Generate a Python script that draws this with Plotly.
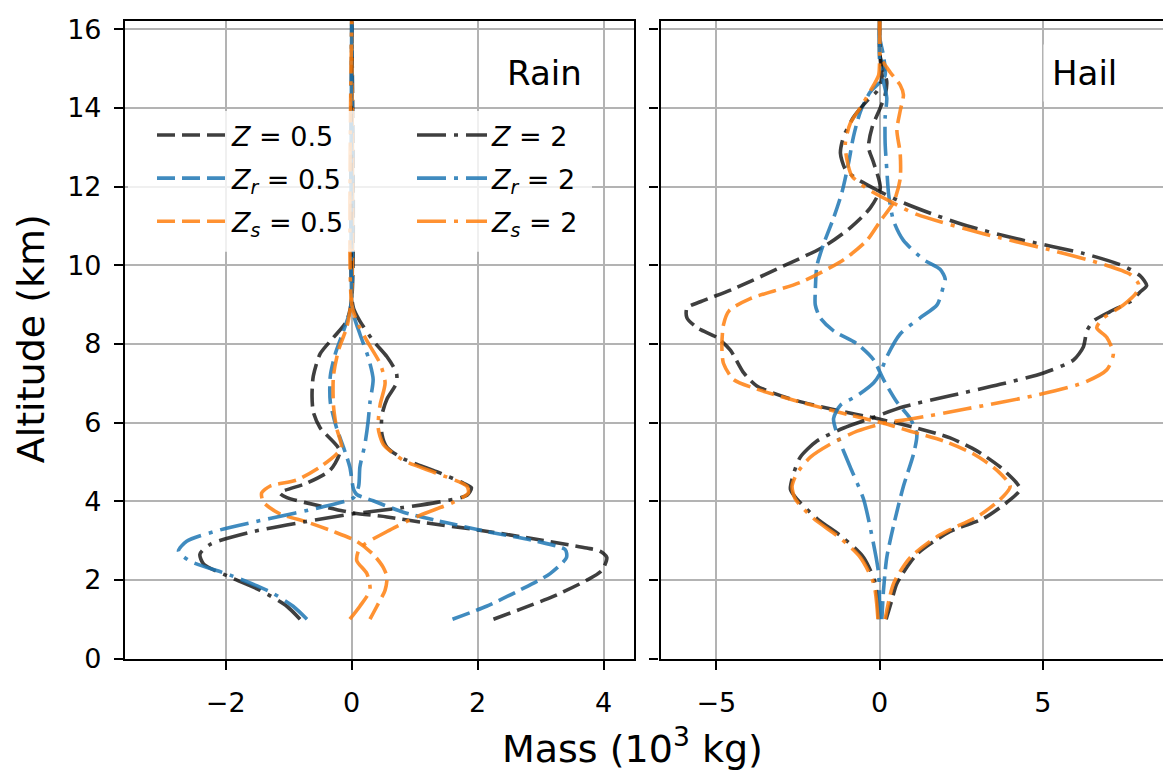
import plotly.graph_objects as go

# ---------------- data (mass in 10^3 kg, altitude in km) ----------------
# Rain panel
rain_z05_alt = [1.0, 1.25, 1.58, 1.99, 2.24, 2.57, 2.73, 2.81, 3.10, 3.27, 3.47, 3.60, 3.70, 3.88, 4.09, 4.21, 4.46, 4.79, 5.28, 5.86, 6.27, 6.68, 7.18, 7.75, 8.16, 8.58, 9.15, 16.2]
rain_z05 = [2.25, 2.67, 3.2, 3.73, 3.97, 4.05, 3.94, 3.73, 2.67, 2.0, 1.08, 0.56, 0.03, -0.5, -1.03, -1.14, -0.71, -0.34, -0.19, -0.5, -0.61, -0.63, -0.61, -0.5, -0.29, -0.08, 0, 0]

rain_zr05_alt = [1.0, 1.33, 1.74, 2.16, 2.57, 2.77, 2.98, 3.23, 3.51, 3.72, 4.01, 4.17, 4.30, 4.87, 5.37, 5.86, 6.52, 7.18, 7.75, 8.33, 8.82, 9.2, 16.2]
rain_zr05 = [1.6, 2.14, 2.67, 3.15, 3.41, 3.39, 2.94, 2.14, 1.35, 0.82, 0.34, 0.08, 0.03, -0.03, -0.13, -0.24, -0.34, -0.34, -0.26, -0.13, -0.03, 0, 0]

rain_zs05_alt = [1.0, 1.33, 1.74, 2.07, 2.32, 2.65, 2.98, 3.23, 3.47, 3.68, 3.97, 4.21, 4.38, 4.54, 4.87, 5.2, 5.37, 5.86, 6.44, 7.18, 7.84, 8.41, 8.82, 9.2, 16.2]
rain_zs05 = [0.29, 0.4, 0.53, 0.56, 0.5, 0.34, 0.08, -0.29, -0.71, -1.14, -1.4, -1.43, -1.3, -0.87, -0.5, -0.24, -0.16, -0.24, -0.29, -0.29, -0.21, -0.08, -0.03, 0, 0]

rain_z2_alt = [1.0, 1.33, 1.74, 2.07, 2.4, 2.65, 2.9, 3.23, 3.47, 3.68, 3.84, 3.97, 4.15, 4.34, 4.46, 4.75, 5.08, 5.37, 5.70, 6.19, 6.6, 7.0, 7.26, 7.67, 8.08, 8.58, 8.9, 9.2, 16.2]
rain_z2 = [-0.82, -1.03, -1.46, -1.93, -2.35, -2.41, -2.25, -1.56, -0.77, 0.03, 0.82, 1.35, 1.83, 1.9, 1.77, 1.35, 0.82, 0.56, 0.48, 0.48, 0.56, 0.71, 0.71, 0.56, 0.34, 0.13, 0.03, 0, 0]

rain_zr2_alt = [1.0, 1.33, 1.70, 2.12, 2.48, 2.73, 2.98, 3.27, 3.56, 3.84, 4.09, 4.38, 4.87, 5.45, 6.02, 6.52, 7.1, 7.67, 8.25, 8.74, 9.2, 16.2]
rain_zr2 = [-0.71, -0.93, -1.3, -1.93, -2.57, -2.75, -2.62, -2.09, -1.3, -0.5, 0.03, 0.11, 0.13, 0.21, 0.26, 0.29, 0.34, 0.26, 0.13, 0.03, 0, 0]

rain_zs2_alt = [1.0, 1.33, 1.74, 2.16, 2.49, 2.81, 3.23, 3.64, 3.97, 4.21, 4.38, 4.71, 5.04, 5.45, 5.86, 6.44, 7.01, 7.5, 8.08, 8.58, 9.0, 16.2]
rain_zs2 = [-0.03, 0.13, 0.29, 0.24, 0.08, 0.13, 0.56, 1.08, 1.61, 1.85, 1.83, 1.35, 0.82, 0.5, 0.42, 0.45, 0.53, 0.45, 0.24, 0.08, 0, 0]

# Hail panel
hail_z05_alt = [1.0, 1.5, 1.91, 2.65, 3.23, 3.56, 3.97, 4.30, 4.46, 4.87, 5.28, 5.61, 5.86, 6.1, 6.31, 6.6, 6.93, 7.26, 7.84, 8.16, 8.41, 8.66, 8.91, 9.07, 9.4, 9.98, 10.47, 10.95, 11.45, 11.95, 12.6, 13.0, 13.5, 14.0, 14.33, 14.66, 15.0, 15.3, 15.7, 16.2]
hail_z05 = [0.2, 0.38, 0.53, 1.14, 2.16, 3.18, 3.9, 4.31, 4.2, 3.69, 2.98, 2.16, 1.14, -0.08, -1.31, -2.73, -3.76, -4.16, -4.57, -4.98, -5.59, -5.9, -5.9, -5.49, -4.47, -2.94, -1.71, -0.9, -0.29, 0.02, -0.18, -0.34, -0.23, 0.02, 0.17, 0.22, 0.12, 0.02, 0, 0]

hail_zr05_alt = [1.0, 1.74, 2.57, 3.39, 4.38, 5.2, 5.7, 6.1, 6.52, 7.09, 7.59, 8.0, 8.33, 8.66, 8.99, 9.32, 9.98, 10.55, 11.2, 11.86, 12.6, 13.27, 13.9, 14.4, 14.66, 14.83, 15.32, 15.8, 16.2]
hail_zr05 = [0.07, 0.12, 0.22, 0.43, 0.73, 1.04, 1.14, 0.94, 0.53, 0.12, -0.18, -0.69, -1.41, -1.82, -1.97, -1.97, -1.92, -1.71, -1.41, -1.15, -0.95, -0.8, -0.59, -0.29, 0.02, 0.17, 0.12, 0, 0]

hail_zs05_alt = [1.0, 1.91, 2.57, 3.14, 3.64, 4.13, 4.38, 4.79, 5.2, 5.53, 5.78, 5.98, 6.19, 6.52, 6.85, 7.09, 7.5, 7.92, 8.49, 8.85, 9.15, 9.56, 10.14, 10.63, 11.12, 11.6, 12.19, 12.85, 13.43, 13.92, 14.33, 14.58, 14.9, 15.3, 15.8, 16.2]
hail_zs05 = [0.17, 0.43, 0.94, 1.84, 3.06, 3.8, 4.0, 3.59, 2.88, 1.96, 0.94, 0.12, -0.9, -2.43, -3.76, -4.47, -4.78, -4.83, -4.78, -4.6, -3.96, -2.43, -1.1, -0.39, 0.02, 0.43, 0.63, 0.63, 0.53, 0.63, 0.73, 0.63, 0.33, 0.02, 0, 0]

hail_z2_alt = [1.0, 1.91, 2.57, 3.06, 3.56, 4.05, 4.30, 4.71, 5.12, 5.53, 5.86, 6.1, 6.4, 6.68, 6.97, 7.26, 7.59, 7.92, 8.33, 8.58, 8.82, 9.07, 9.32, 9.48, 9.73, 9.98, 10.3, 10.67, 11.0, 11.29, 11.62, 11.91, 12.19, 12.44, 12.85, 13.27, 13.76, 14.17, 14.42, 14.74, 15.24, 15.7, 16.2]
hail_z2 = [-0.03, -0.13, -0.49, -1.1, -1.92, -2.53, -2.73, -2.63, -2.43, -1.92, -1.1, -0.29, 0.73, 2.16, 3.69, 5.02, 5.94, 6.24, 6.35, 6.55, 7.06, 7.67, 7.98, 8.18, 7.98, 7.47, 6.24, 4.2, 2.67, 1.65, 0.63, -0.08, -0.69, -1.05, -1.2, -1.1, -0.8, -0.39, -0.08, 0.07, 0.02, 0, 0]

hail_zr2_alt = [1.0, 2.16, 3.14, 4.05, 4.87, 5.61, 6.1, 6.44, 6.68, 7.01, 7.26, 7.67, 8.25, 8.66, 8.99, 9.48, 9.65, 9.89, 10.14, 10.63, 11.12, 11.78, 12.44, 13.1, 13.76, 14.25, 14.66, 15.2, 16.2]
hail_zr2 = [0.0, -0.03, -0.24, -0.49, -0.9, -1.26, -1.41, -1.2, -0.69, -0.18, 0.02, 0.22, 0.63, 1.24, 1.76, 1.96, 2.01, 1.86, 1.35, 0.73, 0.43, 0.28, 0.22, 0.17, 0.17, 0.22, 0.12, 0, 0]

hail_zs2_alt = [1.0, 1.91, 2.57, 3.06, 3.56, 4.05, 4.38, 4.71, 5.12, 5.45, 5.78, 5.98, 6.1, 6.35, 6.68, 7.01, 7.34, 7.75, 8.16, 8.41, 8.66, 8.99, 9.32, 9.52, 9.77, 10.02, 10.39, 10.8, 11.29, 11.62, 11.95, 12.27, 12.68, 13.1, 13.6, 14.0, 14.42, 14.83, 15.2, 16.2]
hail_zs2 = [-0.05, -0.18, -0.59, -1.2, -2.02, -2.58, -2.68, -2.53, -2.12, -1.51, -0.69, 0.12, 1.04, 2.67, 4.71, 6.24, 6.96, 7.16, 6.96, 6.65, 6.86, 7.47, 7.88, 7.93, 7.67, 6.86, 5.22, 3.18, 1.14, 0.33, -0.39, -0.85, -1.0, -1.05, -0.9, -0.59, -0.29, -0.03, 0, 0]

series_names = ["<i>Z</i> = 0.5", "<i>Z</i><sub><i>r</i></sub> = 0.5", "<i>Z</i><sub><i>s</i></sub> = 0.5",
                "<i>Z</i> = 2", "<i>Z</i><sub><i>r</i></sub> = 2", "<i>Z</i><sub><i>s</i></sub> = 2"]

rain_x_ticks = [-2, 0, 2, 4]
rain_x_labels = ["\u22122", "0", "2", "4"]
hail_x_ticks = [-5, 0, 5]
hail_x_labels = ["\u22125", "0", "5"]
y_ticks = [0, 2, 4, 6, 8, 10, 12, 14, 16]
y_labels = ["0", "2", "4", "6", "8", "10", "12", "14", "16"]

# ---------------- styles ----------------
GRAY = "rgba(15,15,15,0.8)"
BLUE = "rgba(31,119,180,0.85)"
ORANGE = "rgba(255,127,14,0.85)"
DASH = "18px,7px"
DASHDOT = "29px,8px,4px,8px"
colors = [GRAY, BLUE, ORANGE, GRAY, BLUE, ORANGE]
dashes = [DASH, DASH, DASH, DASHDOT, DASHDOT, DASHDOT]
legend_ids = ["legend", "legend", "legend", "legend2", "legend2", "legend2"]

rain_series = [(rain_z05_alt, rain_z05), (rain_zr05_alt, rain_zr05), (rain_zs05_alt, rain_zs05),
               (rain_z2_alt, rain_z2), (rain_zr2_alt, rain_zr2), (rain_zs2_alt, rain_zs2)]
hail_series = [(hail_z05_alt, hail_z05), (hail_zr05_alt, hail_zr05), (hail_zs05_alt, hail_zs05),
               (hail_z2_alt, hail_z2), (hail_zr2_alt, hail_zr2), (hail_zs2_alt, hail_zs2)]

FONT = "DejaVu Sans"
LW = 3.6
fig = go.Figure()

for i, (alt, m) in enumerate(rain_series):
    fig.add_trace(go.Scatter(
        x=m, y=alt, mode="lines", name=series_names[i], legend=legend_ids[i],
        legendgroup="g%d" % i,
        line=dict(color=colors[i], dash=dashes[i], width=LW, shape="spline", smoothing=0.7),
        xaxis="x", yaxis="y", showlegend=True))

for i, (alt, m) in enumerate(hail_series):
    fig.add_trace(go.Scatter(
        x=m, y=alt, mode="lines", name=series_names[i], legendgroup="g%d" % i,
        line=dict(color=colors[i], dash=dashes[i], width=LW, shape="spline", smoothing=0.7),
        xaxis="x2", yaxis="y2", showlegend=False))

W, H = 1163, 778
ydom = [(H - 670.5) / H, (H - 14.3) / H]
axis_common = dict(showline=True, linecolor="black", linewidth=2.2, ticks="outside",
                   ticklen=9, tickwidth=2, tickcolor="black", showgrid=True,
                   gridcolor="#b3b3b3", gridwidth=2, zeroline=False,
                   tickfont=dict(family=FONT, size=27, color="black"))

legend_common = dict(orientation="v", xanchor="left", yanchor="top", itemwidth=70,
                     bgcolor="rgba(0,0,0,0)", borderwidth=0, tracegroupgap=5,
                     font=dict(family=FONT, size=27, color="black"), itemclick=False)

fig.update_layout(
    width=W, height=H,
    margin=dict(l=0, r=0, t=0, b=0),
    paper_bgcolor="white", plot_bgcolor="white",
    font=dict(family=FONT, color="black"),
    xaxis=dict(domain=[125 / W, 634.3 / W], range=[-3.599, 4.486], tickmode="array",
               tickvals=rain_x_ticks, ticktext=rain_x_labels, mirror=True, anchor="y",
               ticklabelstandoff=10, **axis_common),
    yaxis=dict(domain=ydom, range=[0, 16.21], tickmode="array", tickvals=y_ticks,
               ticktext=y_labels, mirror=True, anchor="x", ticklabelstandoff=7, **axis_common),
    xaxis2=dict(domain=[660.5 / W, 1.0], range=[-6.71, 8.68], tickmode="array",
                tickvals=hail_x_ticks, ticktext=hail_x_labels, mirror=True, anchor="y2",
                ticklabelstandoff=10, **axis_common),
    yaxis2=dict(domain=ydom, range=[0, 16.21], tickmode="array", tickvals=y_ticks,
                ticktext=y_labels, showticklabels=False, mirror=False, anchor="x2", **axis_common),
    legend=dict(x=152 / W, y=(H - 107) / H, **legend_common),
    legend2=dict(x=412 / W, y=(H - 107) / H, **legend_common),
    shapes=[
        dict(type="rect", xref="paper", yref="paper", x0=128 / W, x1=592 / W,
             y0=(H - 252) / H, y1=(H - 107) / H, fillcolor="rgba(255,255,255,0.8)",
             line=dict(width=0), layer="above"),
    ],
    annotations=[
        dict(text="Rain", xref="paper", yref="paper", x=591 / W, y=(H - 68) / H,
             xanchor="right", yanchor="middle", showarrow=False, bgcolor="white", borderpad=8,
             font=dict(family=FONT, size=34, color="black")),
        dict(text="Hail", xref="paper", yref="paper", x=1126 / W, y=(H - 68) / H,
             xanchor="right", yanchor="middle", showarrow=False, bgcolor="white", borderpad=8,
             font=dict(family=FONT, size=34, color="black")),
        dict(text="Altitude (km)", xref="paper", yref="paper", x=31 / W, y=(H - 342) / H,
             xanchor="center", yanchor="middle", textangle=-90, showarrow=False,
             font=dict(family=FONT, size=38, color="black")),
        dict(text="Mass (10<sup>3</sup> kg)", xref="paper", yref="paper", x=632 / W, y=(H - 760) / H,
             xanchor="center", yanchor="middle", showarrow=False,
             font=dict(family=FONT, size=38, color="black")),
    ],
)

fig.write_html("out.html")
